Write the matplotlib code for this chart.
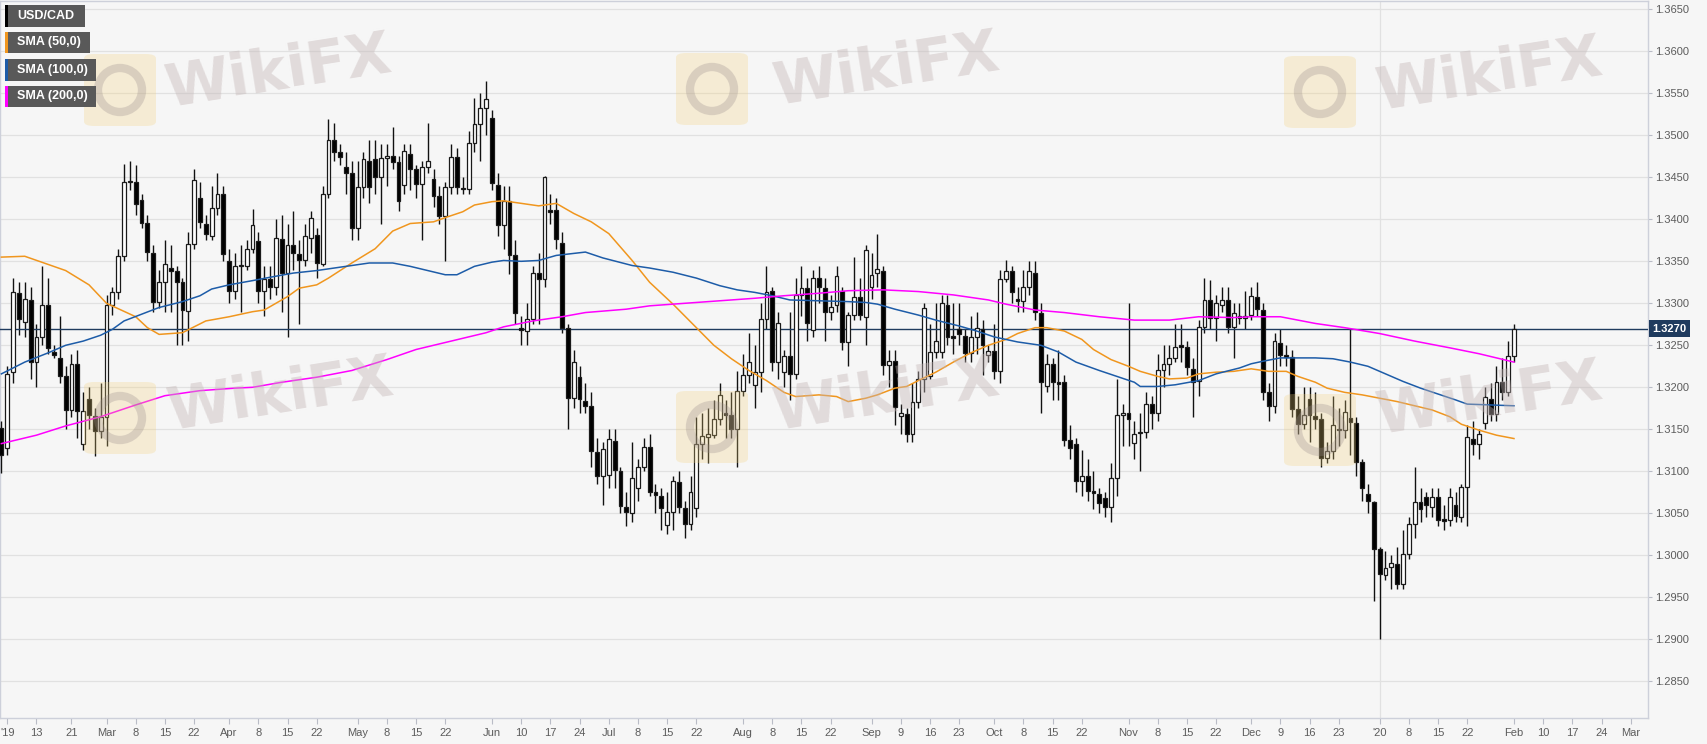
import numpy as np
import pandas as pd
import matplotlib
matplotlib.use("Agg")
import matplotlib.pyplot as plt
from matplotlib.patches import Rectangle, FancyBboxPatch, Ellipse
from matplotlib.transforms import blended_transform_factory

plt.rcParams['font.family'] = ['Liberation Sans', 'DejaVu Sans']

# daily USD/CAD candles, first one on 2019-02-05, one per weekday
first_day = "2019-02-05"

opens = [
    1.3152, 1.3128, 1.3218, 1.3312, 1.3278, 1.3304, 1.3230, 1.3260, 1.3298, 1.3242,
    1.3235, 1.3213, 1.3173, 1.3228, 1.3133, 1.3186, 1.3166, 1.3148, 1.3165, 1.3298,
    1.3313, 1.3356, 1.3444, 1.3445, 1.3423, 1.3396, 1.3360, 1.3302, 1.3325, 1.3342,
    1.3339, 1.3325, 1.3291, 1.3371, 1.3425, 1.3395, 1.3380, 1.3414, 1.3430, 1.3350,
    1.3315, 1.3344, 1.3344, 1.3365, 1.3374, 1.3315, 1.3329, 1.3320, 1.3377, 1.3336,
    1.3370, 1.3359, 1.3351, 1.3378, 1.3381, 1.3347, 1.3430, 1.3494, 1.3480, 1.3462,
    1.3455, 1.3390, 1.3439, 1.3470, 1.3472, 1.3450, 1.3473, 1.3475, 1.3468, 1.3441,
    1.3478, 1.3460, 1.3442, 1.3462, 1.3448, 1.3428, 1.3404, 1.3439, 1.3474, 1.3437,
    1.3436, 1.3491, 1.3514, 1.3532, 1.3521, 1.3441, 1.3393, 1.3422, 1.3357, 1.3271,
    1.3267, 1.3281, 1.3336, 1.3329, 1.3411, 1.3411, 1.3372, 1.3271, 1.3187, 1.3212,
    1.3184, 1.3178, 1.3123, 1.3095, 1.3096, 1.3136, 1.3100, 1.3058, 1.3050, 1.3080,
    1.3105, 1.3129, 1.3075, 1.3070, 1.3036, 1.3051, 1.3087, 1.3056, 1.3037, 1.3056,
    1.3133, 1.3141, 1.3143, 1.3162, 1.3169, 1.3167, 1.3150, 1.3196, 1.3215, 1.3203,
    1.3218, 1.3281, 1.3315, 1.3230, 1.3218, 1.3237, 1.3216, 1.3310, 1.3318, 1.3268,
    1.3330, 1.3318, 1.3290, 1.3298, 1.3315, 1.3254, 1.3286, 1.3307, 1.3284, 1.3320,
    1.3336, 1.3339, 1.3226, 1.3231, 1.3166, 1.3168, 1.3145, 1.3183, 1.3210, 1.3214,
    1.3242, 1.3242, 1.3298, 1.3261, 1.3270, 1.3261, 1.3241, 1.3260, 1.3270, 1.3239,
    1.3243, 1.3219, 1.3329, 1.3338, 1.3305, 1.3303, 1.3320, 1.3336, 1.3288, 1.3202,
    1.3228, 1.3206, 1.3206, 1.3137, 1.3133, 1.3089, 1.3095, 1.3077, 1.3073, 1.3068,
    1.3057, 1.3092, 1.3167, 1.3170, 1.3134, 1.3146, 1.3147, 1.3180, 1.3169, 1.3221,
    1.3228, 1.3235, 1.3250, 1.3248, 1.3222, 1.3208, 1.3272, 1.3304, 1.3283, 1.3298,
    1.3304, 1.3272, 1.3285, 1.3283, 1.3286, 1.3308, 1.3292, 1.3194, 1.3178, 1.3253,
    1.3239, 1.3236, 1.3174, 1.3156, 1.3186, 1.3166, 1.3162, 1.3116, 1.3124, 1.3149,
    1.3149, 1.3164, 1.3157, 1.3111, 1.3073, 1.3063, 1.3008, 1.2977, 1.2986, 1.2990,
    1.2966, 1.3002, 1.3037, 1.3064, 1.3069, 1.3058, 1.3069, 1.3043, 1.3042, 1.3060,
    1.3046, 1.3081, 1.3139, 1.3132, 1.3158, 1.3186, 1.3168, 1.3206, 1.3194, 1.3237,
]
highs = [
    1.3160, 1.3225, 1.3330, 1.3325, 1.3325, 1.3320, 1.3275, 1.3345, 1.3330, 1.3250,
    1.3285, 1.3225, 1.3240, 1.3245, 1.3195, 1.3200, 1.3175, 1.3205, 1.3310, 1.3320,
    1.3365, 1.3466, 1.3470, 1.3465, 1.3430, 1.3405, 1.3370, 1.3340, 1.3375, 1.3370,
    1.3345, 1.3330, 1.3385, 1.3460, 1.3445, 1.3405, 1.3440, 1.3455, 1.3440, 1.3365,
    1.3360, 1.3370, 1.3375, 1.3412, 1.3385, 1.3345, 1.3345, 1.3400, 1.3405, 1.3395,
    1.3410, 1.3375, 1.3395, 1.3410, 1.3390, 1.3440, 1.3520, 1.3515, 1.3490, 1.3480,
    1.3470, 1.3470, 1.3480, 1.3495, 1.3495, 1.3490, 1.3490, 1.3510, 1.3475, 1.3490,
    1.3490, 1.3465, 1.3470, 1.3515, 1.3460, 1.3440, 1.3445, 1.3490, 1.3485, 1.3450,
    1.3505, 1.3545, 1.3550, 1.3565, 1.3530, 1.3455, 1.3440, 1.3440, 1.3375, 1.3285,
    1.3300, 1.3345, 1.3360, 1.3452, 1.3430, 1.3425, 1.3385, 1.3275, 1.3245, 1.3225,
    1.3205, 1.3195, 1.3140, 1.3135, 1.3150, 1.3150, 1.3105, 1.3075, 1.3135, 1.3115,
    1.3140, 1.3145, 1.3085, 1.3080, 1.3075, 1.3095, 1.3100, 1.3065, 1.3095, 1.3165,
    1.3170, 1.3175, 1.3185, 1.3205, 1.3185, 1.3195, 1.3220, 1.3240, 1.3265, 1.3250,
    1.3300, 1.3345, 1.3320, 1.3290, 1.3245, 1.3290, 1.3330, 1.3345, 1.3330, 1.3340,
    1.3345, 1.3330, 1.3310, 1.3345, 1.3320, 1.3290, 1.3355, 1.3330, 1.3370, 1.3360,
    1.3383, 1.3345, 1.3245, 1.3245, 1.3180, 1.3175, 1.3205, 1.3220, 1.3300, 1.3275,
    1.3300, 1.3310, 1.3310, 1.3300, 1.3300, 1.3270, 1.3285, 1.3290, 1.3280, 1.3250,
    1.3275, 1.3340, 1.3352, 1.3345, 1.3320, 1.3340, 1.3350, 1.3350, 1.3300, 1.3240,
    1.3235, 1.3245, 1.3215, 1.3155, 1.3140, 1.3125, 1.3115, 1.3100, 1.3080, 1.3075,
    1.3110, 1.3210, 1.3180, 1.3300, 1.3160, 1.3170, 1.3195, 1.3190, 1.3240, 1.3250,
    1.3250, 1.3275, 1.3275, 1.3255, 1.3235, 1.3280, 1.3330, 1.3328, 1.3310, 1.3320,
    1.3320, 1.3300, 1.3300, 1.3315, 1.3320, 1.3325, 1.3300, 1.3205, 1.3265, 1.3270,
    1.3250, 1.3245, 1.3190, 1.3200, 1.3200, 1.3195, 1.3170, 1.3135, 1.3190, 1.3175,
    1.3185, 1.3270, 1.3165, 1.3115, 1.3085, 1.3065, 1.3010, 1.3005, 1.3000, 1.3010,
    1.3030, 1.3045, 1.3105, 1.3080, 1.3075, 1.3080, 1.3080, 1.3060, 1.3080, 1.3075,
    1.3085, 1.3155, 1.3160, 1.3150, 1.3200, 1.3205, 1.3225, 1.3235, 1.3255, 1.3275,
]
lows = [
    1.3098, 1.3120, 1.3205, 1.3262, 1.3260, 1.3210, 1.3200, 1.3250, 1.3240, 1.3235,
    1.3205, 1.3150, 1.3165, 1.3140, 1.3125, 1.3150, 1.3118, 1.3140, 1.3130, 1.3286,
    1.3305, 1.3350, 1.3435, 1.3405, 1.3390, 1.3350, 1.3290, 1.3295, 1.3290, 1.3290,
    1.3250, 1.3250, 1.3255, 1.3365, 1.3390, 1.3375, 1.3375, 1.3405, 1.3350, 1.3300,
    1.3305, 1.3290, 1.3340, 1.3360, 1.3300, 1.3285, 1.3305, 1.3310, 1.3290, 1.3260,
    1.3340, 1.3275, 1.3345, 1.3360, 1.3330, 1.3345, 1.3425, 1.3470, 1.3465, 1.3430,
    1.3375, 1.3375, 1.3425, 1.3420, 1.3430, 1.3395, 1.3440, 1.3460, 1.3410, 1.3430,
    1.3435, 1.3425, 1.3375, 1.3455, 1.3415, 1.3395, 1.3350, 1.3430, 1.3430, 1.3430,
    1.3430, 1.3480, 1.3470, 1.3500, 1.3435, 1.3380, 1.3365, 1.3335, 1.3275, 1.3250,
    1.3250, 1.3275, 1.3275, 1.3320, 1.3395, 1.3365, 1.3265, 1.3150, 1.3175, 1.3170,
    1.3170, 1.3105, 1.3085, 1.3060, 1.3080, 1.3080, 1.3050, 1.3035, 1.3040, 1.3065,
    1.3100, 1.3070, 1.3050, 1.3030, 1.3025, 1.3030, 1.3050, 1.3020, 1.3030, 1.3045,
    1.3115, 1.3110, 1.3140, 1.3155, 1.3140, 1.3140, 1.3105, 1.3190, 1.3205, 1.3175,
    1.3195, 1.3270, 1.3220, 1.3210, 1.3200, 1.3185, 1.3210, 1.3285, 1.3255, 1.3260,
    1.3300, 1.3255, 1.3280, 1.3290, 1.3245, 1.3225, 1.3280, 1.3280, 1.3250, 1.3305,
    1.3320, 1.3215, 1.3200, 1.3155, 1.3145, 1.3135, 1.3135, 1.3175, 1.3195, 1.3210,
    1.3235, 1.3235, 1.3250, 1.3240, 1.3250, 1.3230, 1.3230, 1.3240, 1.3215, 1.3230,
    1.3210, 1.3205, 1.3325, 1.3300, 1.3290, 1.3290, 1.3310, 1.3280, 1.3170, 1.3195,
    1.3185, 1.3185, 1.3130, 1.3115, 1.3075, 1.3070, 1.3065, 1.3055, 1.3050, 1.3045,
    1.3040, 1.3070, 1.3130, 1.3130, 1.3115, 1.3100, 1.3140, 1.3150, 1.3160, 1.3200,
    1.3215, 1.3230, 1.3230, 1.3215, 1.3165, 1.3190, 1.3265, 1.3270, 1.3255, 1.3290,
    1.3265, 1.3235, 1.3275, 1.3270, 1.3280, 1.3285, 1.3185, 1.3160, 1.3170, 1.3225,
    1.3225, 1.3165, 1.3145, 1.3150, 1.3135, 1.3150, 1.3105, 1.3110, 1.3115, 1.3130,
    1.3140, 1.3120, 1.3095, 1.3065, 1.3050, 1.2945, 1.2900, 1.2970, 1.2960, 1.2960,
    1.2960, 1.2995, 1.3020, 1.3040, 1.3045, 1.3045, 1.3035, 1.3030, 1.3035, 1.3040,
    1.3040, 1.3035, 1.3120, 1.3115, 1.3150, 1.3160, 1.3160, 1.3185, 1.3190, 1.3230,
]
closes = [
    1.3120, 1.3216, 1.3313, 1.3281, 1.3305, 1.3230, 1.3260, 1.3298, 1.3247, 1.3239,
    1.3213, 1.3173, 1.3228, 1.3172, 1.3172, 1.3167, 1.3148, 1.3165, 1.3298, 1.3313,
    1.3356, 1.3444, 1.3446, 1.3418, 1.3396, 1.3361, 1.3302, 1.3325, 1.3347, 1.3339,
    1.3325, 1.3292, 1.3371, 1.3447, 1.3397, 1.3383, 1.3414, 1.3430, 1.3359, 1.3315,
    1.3344, 1.3345, 1.3365, 1.3393, 1.3315, 1.3329, 1.3320, 1.3378, 1.3336, 1.3370,
    1.3360, 1.3351, 1.3380, 1.3401, 1.3348, 1.3430, 1.3494, 1.3480, 1.3474, 1.3455,
    1.3390, 1.3439, 1.3472, 1.3439, 1.3450, 1.3473, 1.3475, 1.3468, 1.3422, 1.3481,
    1.3460, 1.3442, 1.3462, 1.3470, 1.3428, 1.3404, 1.3439, 1.3474, 1.3439, 1.3436,
    1.3491, 1.3514, 1.3532, 1.3543, 1.3443, 1.3393, 1.3422, 1.3357, 1.3288, 1.3268,
    1.3281, 1.3336, 1.3329, 1.3450, 1.3409, 1.3376, 1.3271, 1.3187, 1.3230, 1.3186,
    1.3178, 1.3124, 1.3095, 1.3126, 1.3138, 1.3102, 1.3059, 1.3051, 1.3092, 1.3105,
    1.3129, 1.3075, 1.3072, 1.3056, 1.3051, 1.3088, 1.3058, 1.3037, 1.3075, 1.3133,
    1.3142, 1.3145, 1.3162, 1.3191, 1.3167, 1.3150, 1.3196, 1.3215, 1.3230, 1.3218,
    1.3281, 1.3314, 1.3230, 1.3276, 1.3237, 1.3216, 1.3310, 1.3318, 1.3276, 1.3330,
    1.3320, 1.3290, 1.3296, 1.3333, 1.3254, 1.3286, 1.3307, 1.3286, 1.3364, 1.3334,
    1.3341, 1.3226, 1.3231, 1.3177, 1.3170, 1.3145, 1.3183, 1.3210, 1.3295, 1.3242,
    1.3255, 1.3300, 1.3260, 1.3259, 1.3263, 1.3241, 1.3260, 1.3271, 1.3250, 1.3243,
    1.3219, 1.3329, 1.3339, 1.3313, 1.3303, 1.3320, 1.3338, 1.3290, 1.3206, 1.3228,
    1.3206, 1.3204, 1.3137, 1.3128, 1.3089, 1.3095, 1.3077, 1.3074, 1.3062, 1.3057,
    1.3092, 1.3167, 1.3170, 1.3162, 1.3145, 1.3147, 1.3180, 1.3169, 1.3221, 1.3228,
    1.3235, 1.3248, 1.3248, 1.3224, 1.3206, 1.3272, 1.3304, 1.3283, 1.3300, 1.3304,
    1.3272, 1.3289, 1.3283, 1.3285, 1.3309, 1.3293, 1.3194, 1.3178, 1.3255, 1.3239,
    1.3236, 1.3174, 1.3156, 1.3167, 1.3167, 1.3162, 1.3116, 1.3124, 1.3155, 1.3150,
    1.3171, 1.3159, 1.3111, 1.3080, 1.3065, 1.3007, 1.2978, 1.2985, 1.2991, 1.2966,
    1.3002, 1.3037, 1.3064, 1.3055, 1.3060, 1.3069, 1.3042, 1.3041, 1.3069, 1.3047,
    1.3081, 1.3141, 1.3132, 1.3144, 1.3189, 1.3168, 1.3206, 1.3194, 1.3237, 1.3270,
]

# moving averages at some candles (candle number, value)
sma50_at = [0, 4, 11, 15, 18, 23, 25, 27, 31, 35, 39, 43, 45, 49, 51, 54, 56, 60, 64, 67,
            70, 74, 76, 79, 81, 84, 86, 89, 92, 95, 98, 101, 104, 108, 111, 115, 119, 122,
            125, 128, 131, 134, 136, 138, 140, 143, 145, 148, 150, 153, 155, 157, 160, 163,
            166, 169, 172, 174, 177, 179, 182, 185, 187, 190, 193, 195, 198, 200, 203, 205,
            208, 211, 214, 217, 220, 222, 225, 227, 230, 233, 236, 239, 242, 245, 248, 250,
            253, 256, 259]
sma50 = [1.3355, 1.3356, 1.3339, 1.3322, 1.3300, 1.3284, 1.3271, 1.3263, 1.3265, 1.3279,
         1.3284, 1.3290, 1.3292, 1.3308, 1.3318, 1.3322, 1.3330, 1.3348, 1.3365, 1.3386,
         1.3395, 1.3397, 1.3402, 1.3409, 1.3417, 1.3421, 1.3422, 1.3419, 1.3416, 1.3419,
         1.3407, 1.3397, 1.3383, 1.3351, 1.3325, 1.3299, 1.3271, 1.3250, 1.3234, 1.3220,
         1.3208, 1.3194, 1.3189, 1.3190, 1.3191, 1.3189, 1.3183, 1.3187, 1.3191, 1.3199,
         1.3201, 1.3208, 1.3218, 1.3230, 1.3241, 1.3250, 1.3257, 1.3264, 1.3271, 1.3271,
         1.3267, 1.3257, 1.3245, 1.3233, 1.3225, 1.3219, 1.3213, 1.3210, 1.3211, 1.3216,
         1.3218, 1.3219, 1.3222, 1.3219, 1.3219, 1.3213, 1.3206, 1.3199, 1.3194, 1.3191,
         1.3187, 1.3183, 1.3178, 1.3173, 1.3165, 1.3156, 1.3149, 1.3143, 1.3139]

sma100_at = [0, 4, 8, 11, 14, 17, 19, 21, 24, 27, 31, 34, 36, 39, 43, 46, 50, 54, 59, 63,
             67, 70, 73, 76, 78, 81, 84, 86, 89, 92, 95, 100, 103, 108, 111, 115, 119, 123,
             126, 129, 132, 135, 140, 145, 148, 150, 153, 157, 160, 164, 167, 170, 172, 174,
             178, 181, 184, 188, 191, 194, 195, 198, 201, 205, 208, 212, 214, 216, 219, 222,
             225, 228, 231, 234, 237, 240, 243, 246, 249, 251, 255, 259]
sma100 = [1.3216, 1.3230, 1.3241, 1.3250, 1.3255, 1.3262, 1.3269, 1.3279, 1.3287, 1.3295,
          1.3302, 1.3309, 1.3317, 1.3322, 1.3327, 1.3331, 1.3336, 1.3339, 1.3344, 1.3348,
          1.3348, 1.3344, 1.3339, 1.3334, 1.3334, 1.3344, 1.3349, 1.3351, 1.3350, 1.3351,
          1.3357, 1.3361, 1.3354, 1.3345, 1.3342, 1.3337, 1.3330, 1.3321, 1.3316, 1.3313,
          1.3309, 1.3304, 1.3303, 1.3302, 1.3301, 1.3299, 1.3293, 1.3286, 1.3280, 1.3273,
          1.3267, 1.3260, 1.3257, 1.3254, 1.3250, 1.3242, 1.3230, 1.3220, 1.3213, 1.3206,
          1.3201, 1.3201, 1.3203, 1.3208, 1.3216, 1.3223, 1.3228, 1.3231, 1.3235, 1.3235,
          1.3235, 1.3234, 1.3230, 1.3225, 1.3216, 1.3207, 1.3199, 1.3192, 1.3185, 1.3180,
          1.3179, 1.3178]

sma200_at = [0, 6, 11, 17, 23, 28, 34, 40, 43, 48, 54, 60, 66, 71, 77, 83, 86, 91, 96, 100,
             107, 111, 117, 123, 129, 134, 140, 145, 151, 157, 163, 169, 172, 177, 182, 188,
             194, 200, 205, 211, 214, 219, 225, 230, 236, 242, 248, 253, 259]
sma200 = [1.3133, 1.3143, 1.3154, 1.3165, 1.3179, 1.3190, 1.3196, 1.3199, 1.3200, 1.3206,
          1.3212, 1.3220, 1.3233, 1.3245, 1.3255, 1.3265, 1.3272, 1.3279, 1.3284, 1.3289,
          1.3293, 1.3297, 1.3300, 1.3303, 1.3306, 1.3309, 1.3312, 1.3315, 1.3316, 1.3314,
          1.3310, 1.3304, 1.3299, 1.3292, 1.3289, 1.3284, 1.3280, 1.3280, 1.3284, 1.3283,
          1.3284, 1.3284, 1.3276, 1.3271, 1.3264, 1.3255, 1.3247, 1.3240, 1.3230]

last_price = 1.3270

tick_dates = ["2019-02-06", "2019-02-13", "2019-02-21", "2019-03-01", "2019-03-08",
              "2019-03-15", "2019-03-22", "2019-04-01", "2019-04-08", "2019-04-15",
              "2019-04-22", "2019-05-01", "2019-05-08", "2019-05-15", "2019-05-22",
              "2019-06-03", "2019-06-10", "2019-06-17", "2019-06-24", "2019-07-01",
              "2019-07-08", "2019-07-15", "2019-07-22", "2019-08-01", "2019-08-08",
              "2019-08-15", "2019-08-22", "2019-09-02", "2019-09-09", "2019-09-16",
              "2019-09-23", "2019-10-01", "2019-10-08", "2019-10-15", "2019-10-22",
              "2019-11-01", "2019-11-08", "2019-11-15", "2019-11-22", "2019-12-02",
              "2019-12-09", "2019-12-16", "2019-12-23", "2020-01-01", "2020-01-08",
              "2020-01-15", "2020-01-22", "2020-02-03", "2020-02-10", "2020-02-17",
              "2020-02-24", "2020-03-02"]
tick_labels = ["'19", "13", "21", "Mar", "8", "15", "22", "Apr", "8", "15", "22",
               "May", "8", "15", "22", "Jun", "10", "17", "24", "Jul", "8", "15", "22",
               "Aug", "8", "15", "22", "Sep", "9", "16", "23", "Oct", "8", "15", "22",
               "Nov", "8", "15", "22", "Dec", "9", "16", "23", "'20", "8", "15", "22",
               "Feb", "10", "17", "24", "Mar"]

legend_names = ["USD/CAD", "SMA (50,0)", "SMA (100,0)", "SMA (200,0)"]
legend_colors = ["#000000", "#f0961e", "#1d5ca8", "#ff00ff"]

# ---------------------------------------------------------------------------
W, H = 1707, 744
bg = "#f6f6f6"
fig = plt.figure(figsize=(W / 100, H / 100), dpi=100, facecolor=bg)
ax = fig.add_axes([0, 26 / H, 1648 / W, 717 / H])
ax.set_facecolor(bg)

days = pd.bdate_range(first_day, "2020-03-06")
o = np.array(opens)
h = np.array(highs)
l = np.array(lows)
c = np.array(closes)
x = np.arange(len(c))
up = c >= o

# candles
ax.vlines(x, l, h, color="#111111", lw=1, zorder=3)
body_lo = np.minimum(o, c)
body_h = np.maximum(np.abs(c - o), 0.00012)
ax.bar(x, body_h, bottom=body_lo, width=0.66,
       color=np.where(up, "#ffffff", "#000000"), edgecolor="#1a1a1a",
       linewidth=0.9, zorder=4)

# moving averages
ax.plot(sma50_at, sma50, color=legend_colors[1], lw=1.1, zorder=5)
ax.plot(sma100_at, sma100, color=legend_colors[2], lw=1.1, zorder=5)
ax.plot(sma200_at, sma200, color=legend_colors[3], lw=1.1, zorder=5)

# last price line + label
navy = "#1f3b5e"
ax.axhline(last_price, color=navy, lw=1, zorder=3.5)
ax.annotate(f"{last_price:.4f}", xy=(1, last_price),
            xycoords=blended_transform_factory(ax.transAxes, ax.transData),
            xytext=(3.2, 0), textcoords="offset points", ha="left", va="center",
            color="white", fontsize=8, fontweight="bold", annotation_clip=False,
            bbox=dict(boxstyle="square,pad=0.3", fc=navy, ec="none"))

# axes / grid
ax.set_xlim(-0.24, 281.95)
ax.set_ylim(1.28063, 1.36599)
yt = np.arange(1.2850, 1.36501, 0.005)
ax.yaxis.tick_right()
ax.set_yticks(yt)
ax.set_yticklabels([f"{v:.4f}" for v in yt])
ax.grid(axis="y", color="#e1e1e1", lw=0.9)
ax.set_axisbelow(True)
ax.axvline(days.get_loc(pd.Timestamp("2020-01-01")), color="#e1e1e1", lw=0.9, zorder=0.5)

ax.set_xticks([days.get_loc(pd.Timestamp(d)) for d in tick_dates])
ax.set_xticklabels(tick_labels)
ax.tick_params(axis="x", length=4, color="#b9bcc6", labelcolor="#5c5c5c",
               labelsize=8, pad=3)
ax.tick_params(axis="y", length=3, color="#b9bcc6", labelcolor="#5c5c5c",
               labelsize=8, pad=2)
for s in ax.spines.values():
    s.set_color("#cdd0da")
    s.set_linewidth(1)

# WikiFX watermarks (drawn over the chart, faint)
wm_text = [(278, 73), (886, 71), (1489, 76), (280, 396), (886, 396), (1489, 400)]
wm_logo = [(120, 90), (712, 89), (1320, 92), (120, 418), (712, 427), (1320, 430)]
for cx, cy in wm_text:
    fig.text(cx / W, 1 - cy / H, "WikiFX", fontsize=42, fontweight="bold",
             family="DejaVu Sans", color="#c4b6b6", alpha=0.42, rotation=9,
             ha="center", va="center", zorder=6)
for cx, cy in wm_logo:
    fig.patches.append(FancyBboxPatch(((cx - 36) / W, 1 - (cy + 36) / H), 72 / W, 72 / H,
                                      boxstyle="round,pad=0,rounding_size=0.006",
                                      transform=fig.transFigure, fc="#f3d27c",
                                      ec="none", alpha=0.28, zorder=6))
    fig.patches.append(Ellipse((cx / W, 1 - cy / H), 44 / W, 44 / H,
                               transform=fig.transFigure, fc="none", ec="#9a8e8e",
                               lw=6, alpha=0.3, zorder=6))

# legend boxes top-left
box_rows = [(5, 27, 85), (32, 53, 90), (59, 81, 96), (86, 107, 96)]
for (y0, y1, x1), name, col in zip(box_rows, legend_names, legend_colors):
    fig.patches.append(Rectangle((5 / W, 1 - y1 / H), (x1 - 5) / W, (y1 - y0) / H,
                                 transform=fig.transFigure, fc="#595959", ec="none",
                                 zorder=8))
    fig.patches.append(Rectangle((5 / W, 1 - y1 / H), 3 / W, (y1 - y0) / H,
                                 transform=fig.transFigure, fc=col, ec="none",
                                 zorder=9))
    fig.text(17 / W, 1 - (y0 + y1) / 2 / H, name, color="white", fontsize=9,
             fontweight="bold", ha="left", va="center", zorder=10)

fig.savefig("out.png", dpi=100, facecolor=bg)
